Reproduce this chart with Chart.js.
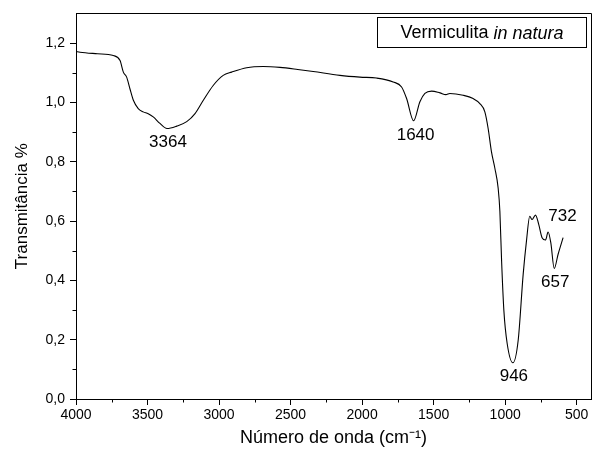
<!DOCTYPE html>
<html>
<head>
<meta charset="utf-8">
<script src="https://cdn.jsdelivr.net/npm/chart.js@4/dist/chart.umd.min.js"></script>
<style>
html,body{margin:0;padding:0;background:#fff;}
#wrap{width:599px;height:458px;}
</style>
</head>
<body>
<div id="wrap"><canvas id="c" width="599" height="458"></canvas></div>
<script>
// ---- data ----
const wavenumbers = [4000,3972,3850,3739,3692,3669,3646,3623,3599,3565,3530,3495,3460,3413,3364,3296,3226,3168,3110,3041,2971,2912,2807,2691,2574,2450,2342,2155,2015,1899,1783,1724,1689,1640,1596,1561,1514,1456,1414,1387,1294,1224,1177,1142,1119,1096,1072,1049,1037,1025,1009,986,946,909,874,851,828,812,788,765,742,718,700,681,657,630,595];
const transmittance = [1.172,1.169,1.164,1.158,1.141,1.102,1.085,1.046,1.007,0.979,0.968,0.962,0.951,0.929,0.912,0.920,0.935,0.962,1.007,1.057,1.091,1.102,1.117,1.121,1.118,1.111,1.104,1.091,1.085,1.082,1.069,1.052,1.013,0.938,1.002,1.030,1.038,1.032,1.026,1.030,1.024,1.013,0.996,0.968,0.912,0.834,0.778,0.711,0.633,0.466,0.298,0.187,0.122,0.198,0.421,0.533,0.616,0.605,0.620,0.588,0.544,0.536,0.563,0.527,0.440,0.488,0.544];
const xTickValues = [4000,3500,3000,2500,2000,1500,1000,500];
const xMinorTicks = [3750,3250,2750,2250,1750,1250,750];
const yTickValues = [0,0.2,0.4,0.6,0.8,1.0,1.2];
const yMinorTicks = [0.1,0.3,0.5,0.7,0.9,1.1];
const peakLabels = ['3364','1640','946','732','657'];
const seriesName = 'Vermiculita';
const seriesNameItalic = 'in natura';
const xTitle = 'Número de onda (cm⁻¹)';
const yTitle = 'Transmitância %';

const FONT = '"Liberation Sans", Arial, sans-serif';

function valueAt(w){
  for(let i=0;i<wavenumbers.length-1;i++){
    const a=wavenumbers[i], b=wavenumbers[i+1];
    if((w<=a && w>=b)){
      const t=(a-w)/(a-b);
      return transmittance[i]+(transmittance[i+1]-transmittance[i])*t;
    }
  }
  return transmittance[transmittance.length-1];
}

const decor = {
  id:'decor',
  afterDraw(chart){
    const ctx=chart.ctx, ca=chart.chartArea;
    const xs=chart.scales.x, ys=chart.scales.y;
    ctx.save();
    ctx.strokeStyle='#000'; ctx.lineWidth=1;
    // frame top & right
    ctx.beginPath();
    ctx.moveTo(Math.round(ca.left)+0.5, Math.round(ca.top)+0.5);
    ctx.lineTo(Math.round(ca.right)+0.5, Math.round(ca.top)+0.5);
    ctx.lineTo(Math.round(ca.right)+0.5, Math.round(ca.bottom)+0.5);
    ctx.stroke();
    // minor ticks
    ctx.beginPath();
    xMinorTicks.forEach(v=>{
      const px=Math.round(xs.getPixelForValue(v))+0.5;
      ctx.moveTo(px, ca.bottom); ctx.lineTo(px, ca.bottom+3.5);
    });
    yMinorTicks.forEach(v=>{
      const py=Math.round(ys.getPixelForValue(v))+0.5;
      ctx.moveTo(ca.left, py); ctx.lineTo(ca.left-3.5, py);
    });
    ctx.stroke();
    // peak labels
    ctx.fillStyle='#000';
    ctx.font='17px '+FONT;
    ctx.textAlign='center'; ctx.textBaseline='middle';
    const offs = {'3364':[1,14],'1640':[2,15],'946':[1,13],'657':[1,14],'732':[19,1]};
    peakLabels.forEach(lbl=>{
      const w=parseFloat(lbl);
      let v=valueAt(w);
      if(lbl==='732') v=0.62;
      const px=xs.getPixelForValue(w)+offs[lbl][0];
      const py=ys.getPixelForValue(v)+offs[lbl][1];
      ctx.fillText(lbl, px, py);
    });
    // legend box
    const bx=Math.round(ca.right)-213.5, by=Math.round(ca.top)+4.5, bw=209, bh=30;
    ctx.strokeRect(bx,by,bw,bh);
    ctx.font='18px '+FONT;
    const t1=seriesName+' ';
    const w1=ctx.measureText(t1).width;
    ctx.font='italic 18px '+FONT;
    const w2=ctx.measureText(seriesNameItalic).width;
    let sx=bx+bw/2-(w1+w2)/2;
    ctx.textAlign='left';
    ctx.font='18px '+FONT;
    ctx.fillText(t1, sx, by+bh/2+1);
    ctx.font='italic 18px '+FONT;
    ctx.fillText(seriesNameItalic, sx+w1, by+bh/2+1);
    ctx.restore();
  }
};

new Chart(document.getElementById('c'), {
  type:'line',
  data:{
    datasets:[{
      label: seriesName+' '+seriesNameItalic,
      data: wavenumbers.map((w,i)=>({x:w,y:transmittance[i]})),
      borderColor:'#000',
      borderWidth:1.1,
      pointRadius:0,
      fill:false,
      cubicInterpolationMode:'monotone'
    }]
  },
  options:{
    responsive:false,
    animation:false,
    devicePixelRatio:1,
    layout:{padding:{left:0,right:8,top:11,bottom:0}},
    plugins:{legend:{display:false},tooltip:{enabled:false}},
    scales:{
      x:{
        type:'linear', reverse:true, min:400, max:4000,
        afterBuildTicks(s){ s.ticks = xTickValues.map(v=>({value:v})); },
        afterFit(s){ s.height = 59; },
        grid:{drawOnChartArea:false, drawTicks:true, tickLength:6, color:'#000'},
        border:{display:true,color:'#000',width:1},
        ticks:{color:'#000', font:{family:FONT,size:14}, padding:2, maxRotation:0, autoSkip:false,
          callback:(v)=>String(v)},
        title:{display:true, text:xTitle, color:'#000', font:{family:FONT,size:18}, padding:{top:0,bottom:9}}
      },
      y:{
        type:'linear', min:0, max:1.3,
        afterBuildTicks(s){ s.ticks = yTickValues.map(v=>({value:v})); },
        afterFit(s){ s.width = 76; },
        grid:{drawOnChartArea:false, drawTicks:true, tickLength:6, color:'#000'},
        border:{display:true,color:'#000',width:1},
        ticks:{color:'#000', font:{family:FONT,size:14}, padding:5, autoSkip:false,
          callback:(v)=>Number(v).toFixed(1).replace('.',',')},
        title:{display:true, text:yTitle, color:'#000', font:{family:FONT,size:17}, padding:{top:12,bottom:0}}
      }
    }
  },
  plugins:[decor]
});
</script>
</body>
</html>
